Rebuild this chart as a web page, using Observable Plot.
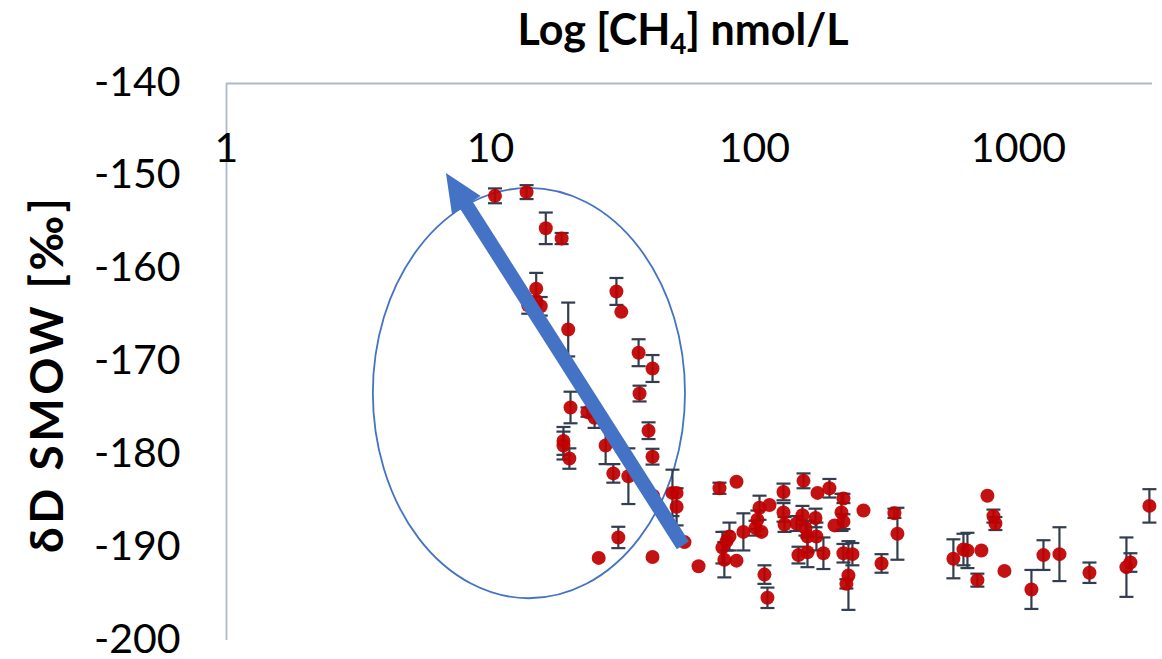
<!DOCTYPE html>
<html>
<head>
<meta charset="utf-8">
<script src="https://cdn.jsdelivr.net/npm/d3@7"></script>
<script src="https://cdn.jsdelivr.net/npm/@observablehq/plot@0.6"></script>
<style>
  html, body { margin: 0; padding: 0; background: #fff; }
  #chart svg { display: block; }
</style>
</head>
<body>
<div id="chart"></div>
<script>
// Methane concentration (nmol/L) for each sample
const ch4 = [
  10.4, 13.7, 16.2, 18.6, 14.9, 14.9, 15.5, 13.9, 30.0, 31.3,
  19.7, 36.4, 41.1, 36.7, 20.1, 23.3, 24.8, 39.7, 18.9, 18.9,
  19.9, 27.3, 41.1, 29.2, 33.3, 41.3, 48.9, 50.7, 50.7, 54.3,
  61.4, 30.5, 25.7, 41.1,
  73.7, 85.5, 75.6, 80.4, 78.4, 76.9, 85.5, 90.8, 104.5, 114,
  102.6, 100.9, 106.3, 109.1, 112, 128.8, 128.8, 130, 153.4, 173.3,
  192.3, 217.3, 213.6, 217.3, 201, 258.8, 339, 348, 303, 144.3,
  152, 170.3, 156, 158.8, 171.7, 146.8, 158.8, 182.5, 217.3, 235,
  227, 223,
  567, 619, 641, 724, 699, 763, 804, 818, 885, 1120,
  1244, 1430, 1858, 2565, 2656, 3134
];

// δD of methane (‰ vs SMOW)
const dD = [
  -152.1, -151.7, -155.6, -156.7, -162.1, -163.4, -164.0, -163.9, -162.4, -164.6,
  -166.5, -169.0, -170.7, -173.4, -174.9, -175.4, -176.0, -177.4, -178.5, -179.0,
  -180.4, -179.0, -180.2, -182.0, -182.3, -184.4, -184.1, -184.1, -185.6, -189.4,
  -192.0, -188.9, -191.1, -191.0,
  -183.6, -182.9, -190.0, -188.8, -189.3, -191.3, -191.4, -188.3, -185.7, -185.4,
  -187.0, -187.9, -188.3, -192.9, -195.4, -184.0, -186.2, -187.5, -182.8, -184.1,
  -183.6, -184.7, -186.2, -187.2, -187.6, -186.0, -186.3, -188.5, -191.7, -187.4,
  -186.5, -186.8, -187.9, -188.8, -188.8, -190.8, -190.5, -190.6, -190.6, -190.7,
  -193.0, -193.9,
  -191.2, -190.2, -190.3, -190.3, -193.5, -184.4, -186.6, -187.4, -192.5, -194.5,
  -190.8, -190.7, -192.7, -192.1, -191.6, -185.5
];

// Analytical uncertainty (± ‰); 0 means no bar
const dDerr = [
  0.8, 0.75, 1.7, 0.6, 1.7, 0, 1.0, 0.9, 1.45, 0,
  2.9, 1.45, 1.45, 0.85, 1.7, 0.5, 1.1, 0.9, 1.5, 1.5,
  1.1, 2.0, 0.85, 1.0, 3.0, 0, 2.5, 0, 2.0, 0,
  0, 1.15, 0, 0,
  0.6, 0, 1.7, 1.5, 1.0, 1.9, 0, 2.0, 1.3, 0,
  1.0, 0.8, 0, 1.0, 1.1, 0.9, 1.0, 0.8, 0.8, 0,
  1.0, 0.5, 2.0, 0.8, 0, 0, 0.5, 2.8, 1.0, 0.8,
  1.0, 1.0, 0.8, 1.7, 1.5, 0.9, 1.6, 1.7, 1.0, 1.2,
  3.7, 0.5,
  2.1, 1.7, 1.9, 0, 0.7, 0, 0.7, 0.7, 0, 2.1,
  1.6, 2.9, 1.1, 3.2, 1.0, 1.8
];

const xTicks = [1, 10, 100, 1000];
const yTicks = [-140, -150, -160, -170, -180, -190, -200];

// Annotation: ellipse around the low-concentration samples (CH4 range, δD range)
const ellipseCH4 = [3.6, 54.8];
const ellipseDD = [-195.5, -151.3];
// Annotation: trend arrow from tail to head (CH4, δD)
const arrowTail = [53.8, -189.8];
const arrowHead = [6.81, -149.7];

const samples = ch4.map((c, i) => ({ch4: c, dD: dD[i], err: dDerr[i]}));
const withErr = samples.filter(d => d.err > 0);

const blue = "#4472c4";
const red = "#c00000";
const barColor = "#323e4f";
const axisColor = "#adb9cc";

// Horizontal cap for error bars
const capSymbol = {
  draw(context, size) {
    const h = Math.sqrt(size / Math.PI);
    context.moveTo(-h, 0);
    context.lineTo(h, 0);
  }
};

function ellipseMark(index, {x, y}) {
  const x0 = x(ellipseCH4[0]), x1 = x(ellipseCH4[1]);
  const y0 = y(ellipseDD[0]), y1 = y(ellipseDD[1]);
  return d3.create("svg:ellipse")
    .attr("cx", (x0 + x1) / 2).attr("cy", (y0 + y1) / 2)
    .attr("rx", Math.abs(x1 - x0) / 2).attr("ry", Math.abs(y1 - y0) / 2)
    .attr("fill", "none").attr("stroke", blue).attr("stroke-width", 1.8)
    .node();
}

function arrowMark(index, {x, y}) {
  const tx = x(arrowTail[0]), ty = y(arrowTail[1]);
  const hx = x(arrowHead[0]), hy = y(arrowHead[1]);
  const len = Math.hypot(hx - tx, hy - ty);
  const ux = (hx - tx) / len, uy = (hy - ty) / len;
  const nx = -uy, ny = ux;
  const shaft = 7.2, headLen = 38, headW = 17;
  const bx = hx - ux * headLen, by = hy - uy * headLen;
  const pts = [
    [tx + nx * shaft, ty + ny * shaft],
    [bx + nx * shaft, by + ny * shaft],
    [bx + nx * headW, by + ny * headW],
    [hx, hy],
    [bx - nx * headW, by - ny * headW],
    [bx - nx * shaft, by - ny * shaft],
    [tx - nx * shaft, ty - ny * shaft]
  ];
  return d3.create("svg:path")
    .attr("d", "M" + pts.map(p => p.join(",")).join("L") + "Z")
    .attr("fill", blue)
    .node();
}

function titleMark(index, scales, values, {width, height, marginLeft, marginRight, marginTop, marginBottom}) {
  const g = d3.create("svg:g")
    .attr("font-family", "Lato, 'Open Sans', sans-serif")
    .attr("font-weight", "bold")
    .attr("fill", "#000");
  const t = g.append("text")
    .attr("x", (marginLeft + width - marginRight) / 2 - 6)
    .attr("y", 45)
    .attr("text-anchor", "middle")
    .attr("font-size", 43);
  t.append("tspan").text("Log [CH");
  t.append("tspan").attr("font-size", 28).attr("dy", 9).text("4");
  t.append("tspan").attr("dy", -9).text("] nmol/L");
  const cy = (marginTop + height - marginBottom) / 2 + 14;
  g.append("text")
    .attr("transform", `translate(63,${cy}) rotate(-90)`)
    .attr("text-anchor", "middle")
    .attr("font-size", 46)
    .attr("textLength", 355)
    .attr("lengthAdjust", "spacing")
    .text("δD SMOW [‰]");
  return g.node();
}

const chart = Plot.plot({
  width: 1162,
  height: 659,
  marginLeft: 226,
  marginRight: 10,
  marginTop: 83,
  marginBottom: 19,
  style: {fontFamily: "Lato, 'Open Sans', sans-serif", background: "#fff", color: "#000", overflow: "visible"},
  x: {type: "log", domain: [1, 3220]},
  y: {domain: [-200, -140]},
  marks: [
    Plot.ruleY([-140], {stroke: axisColor, strokeWidth: 1.8}),
    Plot.ruleX([1], {stroke: axisColor, strokeWidth: 1.8}),
    Plot.axisY({ticks: yTicks, tickSize: 0, tickPadding: 46, tickFormat: d => `${d}`, fontSize: 41, dy: -1, label: null}),
    Plot.axisX({anchor: "top", ticks: xTicks, tickSize: 0, tickPadding: -65, lineAnchor: "middle", tickFormat: d => `${d}`, fontSize: 41, label: null}),
    ellipseMark,
    Plot.ruleX(withErr, {x: "ch4", y1: d => d.dD - d.err, y2: d => d.dD + d.err, stroke: barColor, strokeWidth: 2.2}),
    Plot.dot(withErr, {x: "ch4", y: d => d.dD - d.err, symbol: capSymbol, r: 7, stroke: barColor, strokeWidth: 2.2, fill: "none"}),
    Plot.dot(withErr, {x: "ch4", y: d => d.dD + d.err, symbol: capSymbol, r: 7, stroke: barColor, strokeWidth: 2.2, fill: "none"}),
    Plot.dot(samples, {x: "ch4", y: "dD", r: 7, fill: red, fillOpacity: 0.93, stroke: "none"}),
    arrowMark,
    titleMark
  ]
});

document.getElementById("chart").append(chart);
</script>
</body>
</html>
